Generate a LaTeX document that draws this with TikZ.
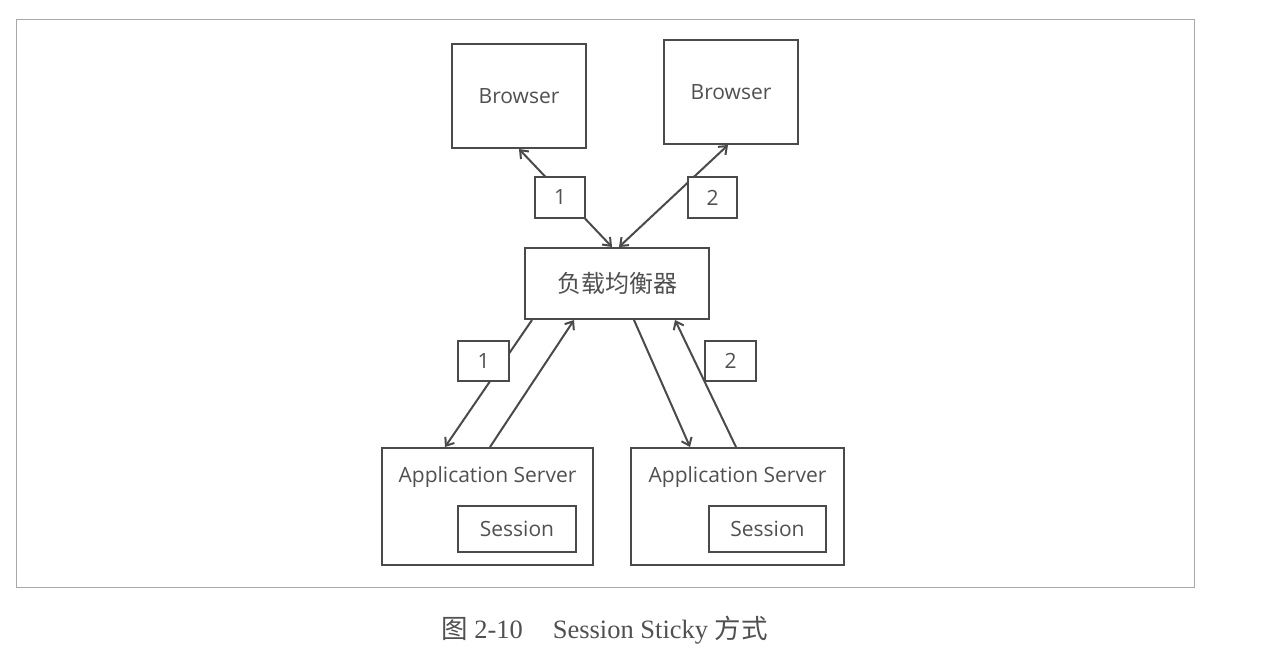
\documentclass[tikz,border=0pt]{standalone}
\usepackage{fontspec}
\setmainfont{Open Sans}
\newfontfamily\cjk{Noto Sans CJK SC}
\newfontfamily\capfont{Liberation Serif}
\usepackage{tikz}
\usetikzlibrary{arrows.meta,positioning,calc}
\definecolor{linegray}{HTML}{4A4A4A}
\definecolor{txtgray}{HTML}{505050}
\definecolor{framegray}{HTML}{A8A8A8}

\begin{document}
\begin{tikzpicture}[x=1pt, y=-1pt,
    box/.style={draw=linegray, line width=2pt, inner sep=0pt, text=txtgray, font=\fontsize{21}{25}\selectfont},
    numbox/.style={box, fill=white, minimum width=50pt, minimum height=41pt},
    txt/.style={text=txtgray, inner sep=0pt, font=\fontsize{21}{25}\selectfont},
    arr/.style={-{Straight Barb[length=7pt,width=11pt]}, line width=2pt, draw=linegray},
    darr/.style={{Straight Barb[length=7pt,width=11pt]}-{Straight Barb[length=7pt,width=11pt]}, line width=2pt, draw=linegray}
  ]
    \useasboundingbox (0,0) rectangle (1281,663);
    \draw[framegray, line width=1pt] (16,20) rectangle (1194,587);

    % browsers and load balancer
    \node[box, minimum width=134pt, minimum height=104pt] (br1) at (519,96) {Browser};
    \node[box, minimum width=134pt, minimum height=104pt] (br2) at (731,92) {Browser};
    \node[box, minimum width=184pt, minimum height=71pt, font=\cjk\fontsize{24}{28}\selectfont] (lb) at (617,283.5) {负载均衡器};

    % application servers
    \node[box, minimum width=211pt, minimum height=117pt] (as1) at (487.5,506.5) {};
    \node[box, minimum width=213pt, minimum height=117pt] (as2) at (737.5,506.5) {};
    \node[txt] (as1t) at ([yshift=-30pt]as1.north) {Application Server};
    \node[txt] (as2t) at ([yshift=-30pt]as2.north) {Application Server};
    \node[box, minimum width=118pt, minimum height=46pt] (ses1) at (517,529) {Session};
    \node[box, minimum width=117pt, minimum height=46pt] (ses2) at (767.5,529) {Session};

    % connectors
    \draw[darr] (br1.south) -- ([xshift=-5pt]lb.north);
    \draw[darr] ([xshift=2pt]lb.north) -- ([xshift=-3pt]br2.south);
    \draw[arr] ([xshift=-85pt]lb.south) -- ([xshift=-42.5pt]as1.north);
    \draw[arr] ([xshift=2.5pt]as1.north) -- ([xshift=-43pt]lb.south);
    \draw[arr] ([xshift=17pt]lb.south) -- ([xshift=-47.5pt]as2.north);
    \draw[arr] ([xshift=-1.5pt]as2.north) -- ([xshift=58pt]lb.south);

    % step numbers
    \node[numbox] (n1) at (560,197.5) {1};
    \node[numbox, minimum width=49pt] (n2) at (712.5,197.5) {2};
    \node[numbox, minimum width=51pt, minimum height=40pt] (n3) at (483.5,361) {1};
    \node[numbox, minimum width=51pt, minimum height=40pt] (n4) at (730.5,361) {2};

    % caption
    \node[text=txtgray, inner sep=0pt, font=\capfont\fontsize{26.5}{31}\selectfont] (cap) at (604.5,630)
      {{\cjk 图} 2-10\hspace{30pt}Session Sticky {\cjk 方式}};
\end{tikzpicture}
\end{document}
